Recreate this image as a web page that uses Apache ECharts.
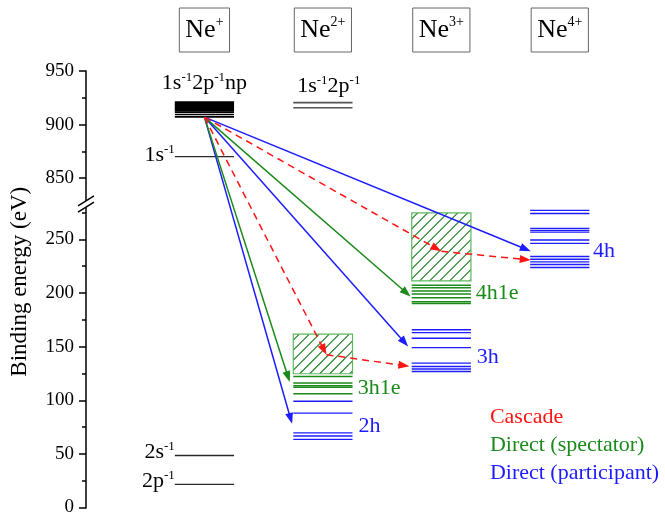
<!DOCTYPE html>
<html>
<head>
<meta charset="utf-8">
<script src="https://cdn.jsdelivr.net/npm/echarts@6/dist/echarts.min.js"></script>
<style>
  html, body { margin: 0; padding: 0; background: #fff; }
  #chart { width: 665px; height: 517px; }
</style>
</head>
<body>
<div id="chart"></div>
<script>
// Charge states of the four columns
const stages = ['+', '2+', '3+', '4+'];

// Energy levels (eV) drawn in each column
const ne1Band = [921, 920, 919, 918, 917, 916, 915, 914, 913, 911.7, 909.5, 907.2]; // 1s-1 2p-1 np
const ne1Holes = [870.2, 48.5, 21.6];                                               // 1s-1, 2s-1, 2p-1
const ne2Core = [920.5, 915.8];                                                     // 1s-1 2p-1
const ne2Sat = [122.2, 116.0, 113.6, 112.2, 106.1];                                 // 3h1e
const ne2Main = [99, 88, 69.6, 66.6, 63.5];                                         // 2h
const ne3Sat = [207.3, 204.8, 201.8, 199.0, 195.6, 191.8, 190.3];                   // 4h1e
const ne3Main = [165.8, 163.1, 157.8, 149.1, 134.6, 131.5, 129.1, 126.8];           // 3h
const ne4Main = [277.0, 274.2, 260.3, 258.4, 256.8, 249.4, 246.3, 234.0, 231.5, 229.0, 226.6, 223.8]; // 4h

// Shake-up continua: [column, lower eV, upper eV]
const ne2Continuum = [2, 124.7, 161.6];
const ne3Continuum = [3, 211.3, 274.8];

// Decay paths
const resonance = [1.0, 907];
const participantEnds = [[1.74, 78], [2.72, 150.2], [3.755, 239]];
const spectatorEnds = [[1.72, 117], [2.74, 196.8]];
const cascadeHops = [[1.0, 907, 2.03, 142.5], [2.03, 142.5, 2.73, 131.6],
                     [1.0, 907, 3.0, 238.9], [3.0, 238.9, 3.755, 230.7]];

// Energy axis: labelled values, minor tick values, break
const majorTicks = [0, 50, 100, 150, 200, 250, 850, 900, 950];
const minorTicks = [25, 75, 125, 175, 225, 275, 875, 925];
const yMin = 0, yMax = 950;
const breakFrom = 280, breakTo = 829;

const BLUE = '#1c1cff', GREEN = '#1a8a1a', RED = '#ff1414';
const SERIF = '"Liberation Serif", "Times New Roman", serif';

const levelStyles = [
  { color: '#000000', width: 1.6 },  // resonant band
  { color: '#2a2a2a', width: 1.4 },  // single holes
  { color: '#555555', width: 1.6 },  // core-valence double hole
  { color: GREEN, width: 1.5 },      // satellites
  { color: BLUE, width: 1.4 }        // main states
];
function rows(col, values, styleIdx) { return values.map(v => [col, v, styleIdx]); }
const levelData = [].concat(
  rows(1, ne1Band, 0), rows(1, ne1Holes, 1), rows(2, ne2Core, 2),
  rows(2, ne2Sat, 3), rows(2, ne2Main, 4),
  rows(3, ne3Sat, 3), rows(3, ne3Main, 4), rows(4, ne4Main, 4)
);
const halfWidth = 0.25;

const arrowColors = [BLUE, GREEN, RED];
const arrowData = [].concat(
  participantEnds.map(e => [resonance[0], resonance[1], e[0], e[1], 0]),
  spectatorEnds.map(e => [resonance[0], resonance[1], e[0], e[1], 1]),
  cascadeHops.map(h => [h[0], h[1], h[2], h[3], 2])
);

const rich = {
  b: { fontFamily: SERIF, fontSize: 22, lineHeight: 24 },
  s: { fontFamily: SERIF, fontSize: 13, lineHeight: 13, verticalAlign: 'top' }
};
const notes = [
  { t: '{b|1s}{s|-1}{b|2p}{s|-1}{b|np}', at: [1.0, 939], align: 'center', color: '#000' },
  { t: '{b|1s}{s|-1}{b|2p}{s|-1}', at: [2.05, 936], align: 'center', color: '#000' },
  { t: '{b|1s}{s|-1}', at: [0.75, 871.5], align: 'right', color: '#000' },
  { t: '{b|2s}{s|-1}', at: [0.75, 51.5], align: 'right', color: '#000' },
  { t: '{b|2p}{s|-1}', at: [0.75, 24.5], align: 'right', color: '#000' },
  { t: '{b|3h1e}', at: [2.295, 111], align: 'left', color: GREEN },
  { t: '{b|2h}', at: [2.3, 75.5], align: 'left', color: BLUE },
  { t: '{b|4h1e}', at: [3.29, 199.6], align: 'left', color: GREEN },
  { t: '{b|3h}', at: [3.3, 140.5], align: 'left', color: BLUE },
  { t: '{b|4h}', at: [4.28, 239.2], align: 'left', color: BLUE },
  { t: '{b|Cascade}', at: [3.41, 84.1], align: 'left', color: RED },
  { t: '{b|Direct (spectator)}', at: [3.41, 58.1], align: 'left', color: GREEN },
  { t: '{b|Direct (participant)}', at: [3.41, 31.8], align: 'left', color: BLUE }
];

function arrow(p0, p1, color, dashed) {
  const dx = p1[0] - p0[0], dy = p1[1] - p0[1];
  const len = Math.hypot(dx, dy) || 1;
  const ux = dx / len, uy = dy / len;
  const headLen = 11, headW = 4;
  const bx = p1[0] - ux * headLen, by = p1[1] - uy * headLen;
  return {
    type: 'group',
    children: [
      { type: 'line', shape: { x1: p0[0], y1: p0[1], x2: bx + ux * 2, y2: by + uy * 2 },
        style: { stroke: color, lineWidth: 1.5, lineDash: dashed ? [7, 5] : null } },
      { type: 'polygon', shape: { points: [[p1[0], p1[1]], [bx - uy * headW, by + ux * headW], [bx + uy * headW, by - ux * headW]] },
        style: { fill: color } }
    ]
  };
}

const energyAxisBase = {
  type: 'value', min: yMin, max: yMax, position: 'left',
  breaks: [{ start: breakFrom, end: breakTo, gap: 6 }],
  breakArea: { show: false, expandOnClick: false,
    itemStyle: { color: 'rgba(0,0,0,0)', borderColor: 'rgba(0,0,0,0)', opacity: 0 } },
  splitLine: { show: false }
};

const chart = echarts.init(document.getElementById('chart'), null, { renderer: 'canvas' });
chart.setOption({
  animation: false,
  backgroundColor: '#fff',
  grid: { left: 86, right: 46, top: 71, bottom: 8, containLabel: false },
  xAxis: [
    { type: 'value', min: 0, max: 4.5, show: false },
    { type: 'value', min: 0, max: 4.5, position: 'top', interval: 1,
      axisLine: { show: false }, axisTick: { show: false }, splitLine: { show: false },
      axisLabel: {
        customValues: [1, 2, 3, 4],
        margin: 19,
        formatter: v => '{n|Ne}{s|' + stages[Math.round(v) - 1] + '}',
        borderColor: '#666', borderWidth: 1, padding: [7, 6, 7, 6],
        rich: {
          n: { fontFamily: SERIF, fontSize: 26, lineHeight: 30, color: '#000' },
          s: { fontFamily: SERIF, fontSize: 14, lineHeight: 14, verticalAlign: 'top', color: '#000' }
        }
      } }
  ],
  yAxis: [
    Object.assign({}, energyAxisBase, {
      name: 'Binding energy (eV)', nameLocation: 'middle', nameGap: 55, nameRotate: 90,
      nameTextStyle: { fontFamily: SERIF, fontSize: 23, color: '#000', padding: [0, 0, 0, 15] },
      axisLine: { show: true, lineStyle: { color: '#000', width: 1.5 } },
      axisTick: { show: true, length: 7, customValues: majorTicks, lineStyle: { color: '#000', width: 1.5 } },
      axisLabel: { margin: 12, fontFamily: SERIF, fontSize: 19, color: '#000', customValues: majorTicks }
    }),
    Object.assign({}, energyAxisBase, {
      axisLine: { show: false },
      axisTick: { show: true, length: 4, customValues: minorTicks, lineStyle: { color: '#000', width: 1.5 } },
      axisLabel: { show: false }
    })
  ],
  series: [
    { // hatched continua
      type: 'custom', silent: true, z: 2,
      data: [ne2Continuum, ne3Continuum],
      encode: { x: 0, y: [1, 2] },
      renderItem: (params, api) => {
        const col = api.value(0);
        const tl = api.coord([col - halfWidth, api.value(2)]);
        const br = api.coord([col + halfWidth, api.value(1)]);
        const x0 = tl[0], y0 = tl[1], x1 = br[0], y1 = br[1];
        const children = [];
        const step = 10;
        for (let c = x0 + y0 + step * 0.6; c < x1 + y1; c += step) {
          const xa = Math.max(x0, c - y1), xb = Math.min(x1, c - y0);
          if (xb <= xa) continue;
          children.push({ type: 'line', shape: { x1: xa, y1: c - xa, x2: xb, y2: c - xb },
            style: { stroke: '#1c7d22', lineWidth: 1.1 } });
        }
        children.push({ type: 'rect', shape: { x: x0, y: y0, width: x1 - x0, height: y1 - y0 },
          style: { fill: null, stroke: '#5fb85f', lineWidth: 1.2 } });
        return { type: 'group', children };
      }
    },
    { // energy levels
      type: 'custom', silent: true, z: 3,
      data: levelData,
      renderItem: (params, api) => {
        const col = api.value(0), e = api.value(1);
        const st = levelStyles[api.value(2)];
        const a = api.coord([col - halfWidth, e]);
        const b = api.coord([col + halfWidth, e]);
        return { type: 'line', shape: { x1: a[0], y1: a[1], x2: b[0], y2: b[1] },
          style: { stroke: st.color, lineWidth: st.width } };
      }
    },
    { // decay arrows
      type: 'custom', silent: true, z: 5,
      data: arrowData,
      encode: { x: [0, 2], y: [1, 3] },
      renderItem: (params, api) => {
        const p0 = api.coord([api.value(0), api.value(1)]);
        const p1 = api.coord([api.value(2), api.value(3)]);
        const kind = api.value(4);
        return arrow(p0, p1, arrowColors[kind], kind === 2);
      }
    },
    { // level names and legend text
      type: 'custom', silent: true, z: 6,
      data: notes.map((n, i) => [n.at[0], n.at[1], i]),
      renderItem: (params, api) => {
        const n = notes[api.value(2)];
        const p = api.coord([api.value(0), api.value(1)]);
        return { type: 'text', x: p[0], y: p[1],
          style: { text: n.t, rich: rich, fill: n.color, align: n.align, verticalAlign: 'middle',
            fontFamily: SERIF, fontSize: 22 } };
      }
    },
    { // axis break marks
      type: 'custom', silent: true, z: 7,
      data: [[0, breakFrom, breakTo]],
      encode: { x: 0, y: [1, 2] },
      renderItem: (params, api) => {
        const lo = api.coord([api.value(0), api.value(1)]);
        const hi = api.coord([api.value(0), api.value(2)]);
        const slash = (p) => ({ type: 'line', shape: { x1: p[0] - 8, y1: p[1] + 5, x2: p[0] + 8, y2: p[1] - 5 },
          style: { stroke: '#000', lineWidth: 1.5 } });
        return { type: 'group', children: [
          { type: 'rect', shape: { x: hi[0] - 3, y: hi[1], width: 6, height: lo[1] - hi[1] }, style: { fill: '#fff' } },
          slash(hi), slash(lo)
        ] };
      }
    }
  ]
});
</script>
</body>
</html>
